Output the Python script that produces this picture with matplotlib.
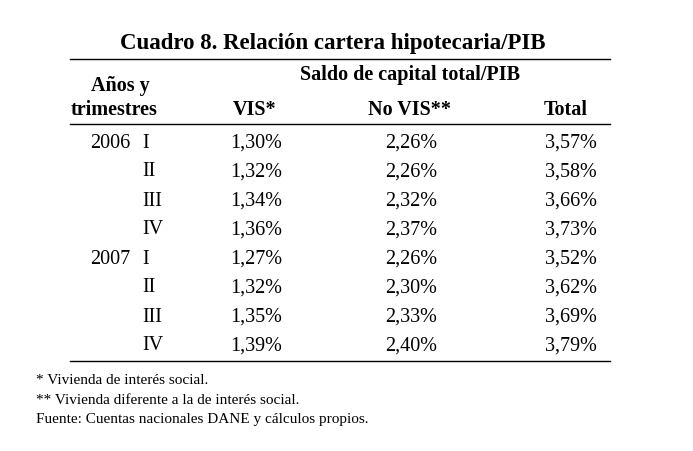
import matplotlib.pyplot as plt

years = ["2006", "", "", "", "2007", "", "", ""]
quarters = ["I", "II", "III", "IV", "I", "II", "III", "IV"]
vis = ["1,30%", "1,32%", "1,34%", "1,36%", "1,27%", "1,32%", "1,35%", "1,39%"]
no_vis = ["2,26%", "2,26%", "2,32%", "2,37%", "2,26%", "2,30%", "2,33%", "2,40%"]
total = ["3,57%", "3,58%", "3,66%", "3,73%", "3,52%", "3,62%", "3,69%", "3,79%"]
notes = ["* Vivienda de interés social.",
         "** Vivienda diferente a la de interés social.",
         "Fuente: Cuentas nacionales DANE y cálculos propios."]

plt.rcParams['font.family'] = ['Liberation Serif', 'DejaVu Serif']
fig = plt.figure(figsize=(6.93, 4.51), dpi=100)
ax = fig.add_axes([0, 0, 1, 1])
ax.set_xlim(0, 693)
ax.set_ylim(451, 0)
ax.axis('off')

fs = 14.5
ax.text(333, 44, "Cuadro 8. Relación cartera hipotecaria/PIB", ha='center', va='center',
        fontsize=16.5, fontweight='bold')
ax.plot([70, 610], [59, 59], color='black', lw=1)
ax.text(120, 86, "Años y", ha='center', va='center', fontsize=fs, fontweight='bold')
ax.text(114, 110, "trimestres", ha='center', va='center', fontsize=fs, fontweight='bold')
ax.text(410, 75, "Saldo de capital total/PIB", ha='center', va='center', fontsize=fs, fontweight='bold')
ax.text(255, 110, "VIS*", ha='center', va='center', fontsize=fs, fontweight='bold')
ax.text(410, 110, "No VIS**", ha='center', va='center', fontsize=fs, fontweight='bold')
ax.text(566, 110, "Total", ha='center', va='center', fontsize=fs, fontweight='bold')
ax.plot([70, 610], [124, 124], color='black', lw=1)

for i in range(len(vis)):
    y = 143 + i * 29
    ax.text(130, y, years[i], ha='right', va='center', fontsize=fs)
    ax.text(142, y, quarters[i], ha='left', va='center', fontsize=fs)
    ax.text(282, y, vis[i], ha='right', va='center', fontsize=fs)
    ax.text(437, y, no_vis[i], ha='right', va='center', fontsize=fs)
    ax.text(597, y, total[i], ha='right', va='center', fontsize=fs)

ax.plot([70, 610], [361, 361], color='black', lw=1)
for i, n in enumerate(notes):
    ax.text(36, 381 + i * 19, n, ha='left', va='center', fontsize=11)

fig.savefig("out.png", dpi=100)
